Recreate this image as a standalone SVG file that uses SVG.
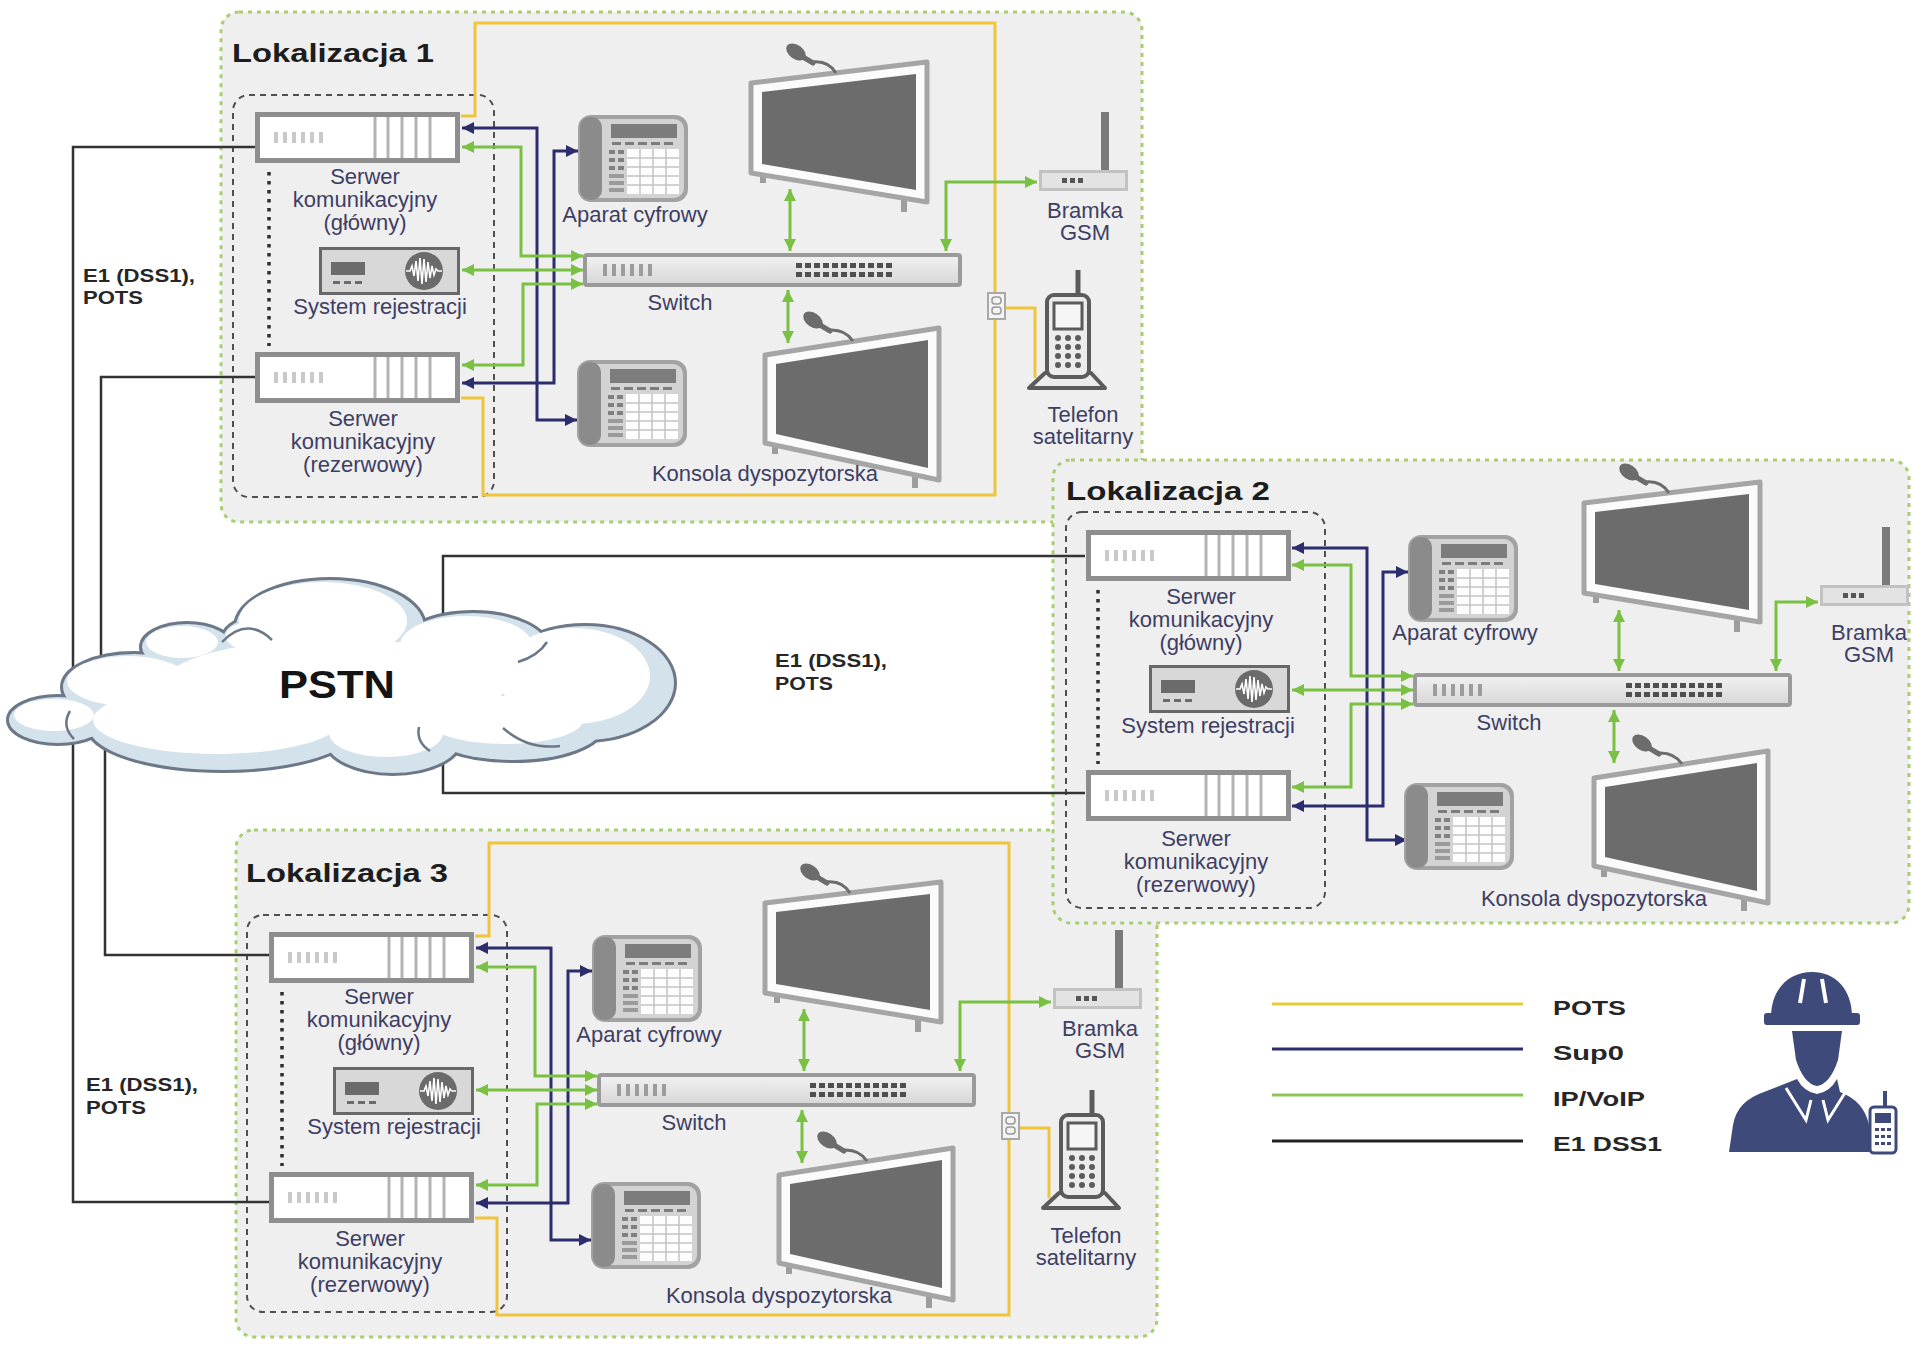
<svg xmlns="http://www.w3.org/2000/svg" xmlns:xlink="http://www.w3.org/1999/xlink" width="1912" height="1345" viewBox="0 0 1912 1345">
<defs>
<style>
.panel{fill:#efefef;stroke:#a9cd72;stroke-width:3;stroke-dasharray:4 5}
.grp{fill:none;stroke:#505050;stroke-width:2;stroke-dasharray:6 5}
.pair{fill:none;stroke:#2e2e2e;stroke-width:3.5;stroke-dasharray:3.5 5.5}
.lbl{font-family:"Liberation Sans",Arial,sans-serif;font-size:22px;fill:#3e3e64;text-anchor:middle}
.title{font-family:"Liberation Sans",Arial,sans-serif;font-size:26px;font-weight:bold;fill:#1d1d1d}
.e1t{font-family:"Liberation Sans",Arial,sans-serif;font-size:19px;font-weight:bold;fill:#262626}
.leg{font-family:"Liberation Sans",Arial,sans-serif;font-size:21px;font-weight:bold;fill:#262626}
.pstn{font-family:"Liberation Sans",Arial,sans-serif;font-size:38px;font-weight:bold;fill:#141414}
.pots{fill:none;stroke:#efc53c;stroke-width:3}
.sup0{fill:none;stroke:#2c2d6d;stroke-width:3;marker-start:url(#mN);marker-end:url(#mN)}
.ip{fill:none;stroke:#7ac143;stroke-width:3;marker-start:url(#mG);marker-end:url(#mG)}
.e1{fill:none;stroke:#333333;stroke-width:2.5}
</style>
<marker id="mN" viewBox="0 0 12 12" refX="12" refY="6" markerWidth="13" markerHeight="12" markerUnits="userSpaceOnUse" orient="auto-start-reverse"><path d="M0,0 L12,6 L0,12 Z" fill="#2c2d6d"/></marker>
<marker id="mG" viewBox="0 0 12 12" refX="12" refY="6" markerWidth="13" markerHeight="12" markerUnits="userSpaceOnUse" orient="auto-start-reverse"><path d="M0,0 L12,6 L0,12 Z" fill="#7ac143"/></marker>
<linearGradient id="swg" x1="0" y1="0" x2="0" y2="1"><stop offset="0" stop-color="#f2f2f2"/><stop offset="1" stop-color="#d6d6d6"/></linearGradient>

<!-- communication server, 205 x 51 -->
<g id="srv">
 <rect x="2.5" y="2.5" width="200" height="46" fill="#ffffff" stroke="#8e8e8e" stroke-width="5"/>
 <g fill="#c9c9c9"><rect x="19" y="20" width="4" height="11"/><rect x="28" y="20" width="4" height="11"/><rect x="37" y="20" width="4" height="11"/><rect x="46" y="20" width="4" height="11"/><rect x="55" y="20" width="4" height="11"/><rect x="64" y="20" width="4" height="11"/></g>
 <path d="M120,5V46M133,5V46M147,5V46M161,5V46M175,5V46" stroke="#b3b3b3" stroke-width="3"/>
</g>
<!-- recording system, 141 x 48 -->
<g id="rec">
 <rect x="1.5" y="1.5" width="138" height="45" fill="#d8d8d8" stroke="#686868" stroke-width="3"/>
 <rect x="12" y="15" width="34" height="13" fill="#6b6b6b"/>
 <g fill="#6b6b6b"><rect x="14" y="34" width="7" height="3"/><rect x="25" y="34" width="7" height="3"/><rect x="36" y="34" width="7" height="3"/></g>
 <circle cx="105" cy="24" r="19" fill="#6b6b6b"/>
 <polyline points="87,24 91,24 93,19 95,29 97,14 99,34 101,11 103,37 105,12 107,35 109,15 111,31 113,19 115,28 117,22 119,24 123,24" fill="none" stroke="#ffffff" stroke-width="1.6"/>
</g>
<!-- desk phone, 110 x 87 -->
<g id="desk">
 <rect x="0" y="0" width="110" height="87" rx="13" fill="#a2a2a2"/>
 <rect x="5" y="4" width="101" height="79" rx="10" fill="#d3d3d3"/>
 <rect x="2" y="2" width="22" height="83" rx="10" fill="#8b8b8b"/>
 <rect x="33" y="9" width="66" height="14" fill="#7c7c7c"/>
 <g fill="#7c7c7c"><rect x="34" y="27" width="9" height="3"/><rect x="47" y="27" width="9" height="3"/><rect x="60" y="27" width="9" height="3"/><rect x="73" y="27" width="9" height="3"/><rect x="86" y="27" width="9" height="3"/></g>
 <g fill="#808080"><rect x="31" y="35" width="6" height="4"/><rect x="40" y="35" width="6" height="4"/><rect x="31" y="43" width="6" height="4"/><rect x="40" y="43" width="6" height="4"/><rect x="31" y="51" width="6" height="4"/><rect x="40" y="51" width="6" height="4"/></g>
 <g fill="#9a9a9a"><rect x="31" y="59" width="15" height="4"/><rect x="31" y="66" width="15" height="4"/><rect x="31" y="73" width="15" height="4"/></g>
 <rect x="49" y="34" width="52" height="45" fill="#fdfdfd"/>
 <path d="M62,34V79M75,34V79M88,34V79M49,43H101M49,52H101M49,61H101M49,70H101" stroke="#c4c4c4" stroke-width="1.5"/>
</g>
<!-- network switch, 379 x 34 -->
<g id="sw">
 <rect x="2" y="2" width="375" height="30" rx="2" fill="url(#swg)" stroke="#9a9a9a" stroke-width="4"/>
 <g fill="#9c9c9c"><rect x="20" y="11" width="4" height="12"/><rect x="29" y="11" width="4" height="12"/><rect x="38" y="11" width="4" height="12"/><rect x="47" y="11" width="4" height="12"/><rect x="56" y="11" width="4" height="12"/><rect x="65" y="11" width="4" height="12"/></g>
 <g fill="#4f4f4f">
  <rect x="213" y="10" width="6" height="5"/><rect x="222" y="10" width="6" height="5"/><rect x="231" y="10" width="6" height="5"/><rect x="240" y="10" width="6" height="5"/><rect x="249" y="10" width="6" height="5"/><rect x="258" y="10" width="6" height="5"/><rect x="267" y="10" width="6" height="5"/><rect x="276" y="10" width="6" height="5"/><rect x="285" y="10" width="6" height="5"/><rect x="294" y="10" width="6" height="5"/><rect x="303" y="10" width="6" height="5"/>
  <rect x="213" y="19" width="6" height="5"/><rect x="222" y="19" width="6" height="5"/><rect x="231" y="19" width="6" height="5"/><rect x="240" y="19" width="6" height="5"/><rect x="249" y="19" width="6" height="5"/><rect x="258" y="19" width="6" height="5"/><rect x="267" y="19" width="6" height="5"/><rect x="276" y="19" width="6" height="5"/><rect x="285" y="19" width="6" height="5"/><rect x="294" y="19" width="6" height="5"/><rect x="303" y="19" width="6" height="5"/>
 </g>
</g>
<!-- dispatcher monitors with microphone -->
<g id="monA">
 <path d="M12,108V121M153,134V150" stroke="#9d9d9d" stroke-width="6"/>
 <polygon points="0,21 176,0 176,140 0,111" fill="#fbfbfb" stroke="#a5a5a5" stroke-width="5" stroke-linejoin="round"/>
 <polygon points="11,30 165,12 165,128 11,102" fill="#6c6c6c"/>
 <path d="M61,0 Q77,-2 85,11" fill="none" stroke="#6c6c6c" stroke-width="3"/>
 <line x1="52" y1="-5" x2="62" y2="1" stroke="#6c6c6c" stroke-width="5" stroke-linecap="round"/>
 <ellipse cx="45" cy="-10" rx="11" ry="7" transform="rotate(35 45 -10)" fill="#6c6c6c"/>
</g>
<g id="monB">
 <path d="M10,112V126M150,144V160" stroke="#9d9d9d" stroke-width="6"/>
 <polygon points="0,27 174,0 174,152 0,115" fill="#fbfbfb" stroke="#a5a5a5" stroke-width="5" stroke-linejoin="round"/>
 <polygon points="11,36 163,12 163,140 11,106" fill="#6c6c6c"/>
 <path d="M64,2 Q80,1 88,13" fill="none" stroke="#6c6c6c" stroke-width="3"/>
 <line x1="55" y1="-3" x2="65" y2="3" stroke="#6c6c6c" stroke-width="5" stroke-linecap="round"/>
 <ellipse cx="48" cy="-8" rx="11" ry="7" transform="rotate(35 48 -8)" fill="#6c6c6c"/>
</g>
<!-- GSM gateway, box 89 x 20 with antenna -->
<g id="gsm">
 <rect x="62" y="-58" width="8" height="58" fill="#7a7a7a"/>
 <rect x="1.5" y="1.5" width="86" height="18" fill="#e3e3e3" stroke="#c2c2c2" stroke-width="3"/>
 <g fill="#555555"><rect x="23" y="8" width="5" height="5"/><rect x="31" y="8" width="5" height="5"/><rect x="39" y="8" width="5" height="5"/></g>
</g>
<!-- satellite phone on base -->
<g id="sat" stroke="#5b5b5b">
 <line x1="49" y1="0" x2="49" y2="26" stroke-width="5"/>
 <polygon points="16,103 62,103 76,118 0,118" fill="#ececec" stroke-width="4" stroke-linejoin="round"/>
 <rect x="18" y="25" width="42" height="82" rx="7" fill="#ececec" stroke-width="4"/>
 <rect x="25" y="33" width="28" height="26" fill="#f6f6f6" stroke-width="3"/>
 <g fill="#5b5b5b" stroke="none"><circle cx="29" cy="68" r="3"/><circle cx="39" cy="68" r="3"/><circle cx="49" cy="68" r="3"/><circle cx="29" cy="77" r="3"/><circle cx="39" cy="77" r="3"/><circle cx="49" cy="77" r="3"/><circle cx="29" cy="86" r="3"/><circle cx="39" cy="86" r="3"/><circle cx="49" cy="86" r="3"/><circle cx="29" cy="95" r="3"/><circle cx="39" cy="95" r="3"/><circle cx="49" cy="95" r="3"/></g>
</g>
<!-- wall socket -->
<g id="socket">
 <rect x="1" y="1" width="17" height="26" fill="#f3f3f3" stroke="#a8a8a8" stroke-width="2"/>
 <rect x="5" y="5" width="9" height="7" rx="3" fill="none" stroke="#9a9a9a" stroke-width="1.5"/>
 <rect x="5" y="15" width="9" height="7" rx="3" fill="none" stroke="#9a9a9a" stroke-width="1.5"/>
</g>
<!-- cloud lobes -->
<g id="cloudLobes">
 <ellipse cx="58" cy="720" rx="49" ry="23"/>
 <ellipse cx="134" cy="687" rx="71" ry="33"/>
 <ellipse cx="187" cy="647" rx="45" ry="23"/>
 <ellipse cx="250" cy="640" rx="27" ry="20"/>
 <ellipse cx="330" cy="627" rx="94" ry="47"/>
 <ellipse cx="473" cy="650" rx="76" ry="37"/>
 <ellipse cx="585" cy="683" rx="89" ry="57"/>
 <ellipse cx="513" cy="727" rx="89" ry="33"/>
 <ellipse cx="393" cy="740" rx="67" ry="33"/>
 <ellipse cx="223" cy="727" rx="134" ry="43"/>
</g>
</defs>

<rect x="0" y="0" width="1912" height="1345" fill="#ffffff"/>

<!-- site areas and server groupings -->
<g id="areas">
 <rect id="area-1" class="panel" x="221" y="12" width="921" height="510" rx="18"/>
 <rect class="grp" x="233" y="95" width="261" height="402" rx="16"/>
 <line class="pair" x1="269" y1="172" x2="269" y2="346"/>
 <rect id="area-3" class="panel" x="236" y="830" width="921" height="507" rx="18"/>
 <rect class="grp" x="247" y="915" width="260" height="397" rx="16"/>
 <line class="pair" x1="282" y1="992" x2="282" y2="1166"/>
 <rect id="area-2" class="panel" x="1053" y="460" width="856" height="463" rx="18"/>
 <rect class="grp" x="1066" y="512" width="259" height="396" rx="16"/>
 <line class="pair" x1="1098" y1="590" x2="1098" y2="764"/>
</g>

<g id="connectors">
 <g id="e1-links" class="e1">
  <path d="M255,147 H73 V1202 H269"/>
  <path d="M255,377 H101 V690"/>
  <path d="M105,720 V955 H269"/>
  <path d="M1085,556 H443 V650"/>
  <path d="M1085,793 H443 V730"/>
 </g>
 <g id="e1-labels">
  <text class="e1t" x="83" y="282" textLength="112" lengthAdjust="spacingAndGlyphs">E1 (DSS1),</text>
  <text class="e1t" x="83" y="304" textLength="60" lengthAdjust="spacingAndGlyphs">POTS</text>
  <text class="e1t" x="775" y="667" textLength="112" lengthAdjust="spacingAndGlyphs">E1 (DSS1),</text>
  <text class="e1t" x="775" y="690" textLength="58" lengthAdjust="spacingAndGlyphs">POTS</text>
  <text class="e1t" x="86" y="1091" textLength="112" lengthAdjust="spacingAndGlyphs">E1 (DSS1),</text>
  <text class="e1t" x="86" y="1114" textLength="60" lengthAdjust="spacingAndGlyphs">POTS</text>
 </g>
 <g id="links-1">
  <path class="pots" d="M461,116 H475 V23 H995 V495 H483 V398 H461"/>
  <path class="pots" d="M1006,308 H1035 V378"/>
  <path class="sup0" d="M462,128 H537 V420 H577"/>
  <path class="sup0" d="M462,383 H554 V151 H578"/>
  <path class="ip" d="M462,147 H521 V256 H583"/>
  <path class="ip" d="M462,270 H583"/>
  <path class="ip" d="M462,365 H523 V284 H583"/>
  <path class="ip" d="M790,189 V251"/>
  <path class="ip" d="M788,290 V343"/>
  <path class="ip" d="M946,251 V182 H1037"/>
 </g>
 <g id="links-3" transform="translate(14,820)">
  <path class="pots" d="M461,116 H475 V23 H995 V495 H483 V398 H461"/>
  <path class="pots" d="M1006,308 H1035 V378"/>
  <path class="sup0" d="M462,128 H537 V420 H577"/>
  <path class="sup0" d="M462,383 H554 V151 H578"/>
  <path class="ip" d="M462,147 H521 V256 H583"/>
  <path class="ip" d="M462,270 H583"/>
  <path class="ip" d="M462,365 H523 V284 H583"/>
  <path class="ip" d="M790,189 V251"/>
  <path class="ip" d="M788,290 V343"/>
  <path class="ip" d="M946,251 V182 H1037"/>
 </g>
 <g id="links-2" transform="translate(830,420)">
  <path class="sup0" d="M462,128 H537 V420 H577"/>
  <path class="sup0" d="M462,386 H553 V152 H578"/>
  <path class="ip" d="M462,145 H521 V256 H583"/>
  <path class="ip" d="M462,270 H583"/>
  <path class="ip" d="M462,367 H521 V284 H583"/>
  <path class="ip" d="M789,190 V251"/>
  <path class="ip" d="M784,290 V343"/>
  <path class="ip" d="M946,251 V182 H988"/>
 </g>
</g>

<!-- Site 1 -->
<g id="site-1">
 <text class="title" x="232" y="62" textLength="202" lengthAdjust="spacingAndGlyphs">Lokalizacja 1</text>
 <g id="s1-server-main"><use href="#srv" x="255" y="112"/><text class="lbl" x="365" y="184">Serwer</text><text class="lbl" x="365" y="207">komunikacyjny</text><text class="lbl" x="365" y="230">(główny)</text></g>
 <g id="s1-recorder"><use href="#rec" x="319" y="247"/><text class="lbl" x="380" y="314">System rejestracji</text></g>
 <g id="s1-server-backup"><use href="#srv" x="255" y="352"/><text class="lbl" x="363" y="426">Serwer</text><text class="lbl" x="363" y="449">komunikacyjny</text><text class="lbl" x="363" y="472">(rezerwowy)</text></g>
 <g id="s1-digital-phone"><use href="#desk" x="578" y="115"/><text class="lbl" x="635" y="222">Aparat cyfrowy</text></g>
 <g id="s1-phone-2"><use href="#desk" x="577" y="360"/></g>
 <g id="s1-switch"><use href="#sw" x="583" y="253"/><text class="lbl" x="680" y="310">Switch</text></g>
 <g id="s1-console"><use href="#monA" x="751" y="62"/><use href="#monB" x="765" y="328"/><text class="lbl" x="765" y="481">Konsola dyspozytorska</text></g>
 <g id="s1-gsm"><use href="#gsm" x="1039" y="170"/><text class="lbl" x="1085" y="218">Bramka</text><text class="lbl" x="1085" y="240">GSM</text></g>
 <g id="s1-socket"><use href="#socket" x="987" y="292"/></g>
 <g id="s1-satphone"><use href="#sat" x="1029" y="270"/><text class="lbl" x="1083" y="422">Telefon</text><text class="lbl" x="1083" y="444">satelitarny</text></g>
</g>

<!-- Site 3 (same layout, shifted) -->
<g id="site-3" transform="translate(14,820)">
 <text class="title" x="232" y="62" textLength="202" lengthAdjust="spacingAndGlyphs">Lokalizacja 3</text>
 <g id="s3-server-main"><use href="#srv" x="255" y="112"/><text class="lbl" x="365" y="184">Serwer</text><text class="lbl" x="365" y="207">komunikacyjny</text><text class="lbl" x="365" y="230">(główny)</text></g>
 <g id="s3-recorder"><use href="#rec" x="319" y="247"/><text class="lbl" x="380" y="314">System rejestracji</text></g>
 <g id="s3-server-backup"><use href="#srv" x="255" y="352"/><text class="lbl" x="356" y="426">Serwer</text><text class="lbl" x="356" y="449">komunikacyjny</text><text class="lbl" x="356" y="472">(rezerwowy)</text></g>
 <g id="s3-digital-phone"><use href="#desk" x="578" y="115"/><text class="lbl" x="635" y="222">Aparat cyfrowy</text></g>
 <g id="s3-phone-2"><use href="#desk" x="577" y="362"/></g>
 <g id="s3-switch"><use href="#sw" x="583" y="253"/><text class="lbl" x="680" y="310">Switch</text></g>
 <g id="s3-console"><use href="#monA" x="751" y="62"/><use href="#monB" x="765" y="328"/><text class="lbl" x="765" y="483">Konsola dyspozytorska</text></g>
 <g id="s3-gsm"><use href="#gsm" x="1039" y="168"/><text class="lbl" x="1086" y="216">Bramka</text><text class="lbl" x="1086" y="238">GSM</text></g>
 <g id="s3-socket"><use href="#socket" x="987" y="292"/></g>
 <g id="s3-satphone"><use href="#sat" x="1029" y="270"/><text class="lbl" x="1072" y="423">Telefon</text><text class="lbl" x="1072" y="445">satelitarny</text></g>
</g>

<!-- Site 2 -->
<g id="site-2" transform="translate(830,420)">
 <text class="title" x="236" y="80" textLength="204" lengthAdjust="spacingAndGlyphs">Lokalizacja 2</text>
 <g id="s2-server-main"><use href="#srv" x="256" y="110"/><text class="lbl" x="371" y="184">Serwer</text><text class="lbl" x="371" y="207">komunikacyjny</text><text class="lbl" x="371" y="230">(główny)</text></g>
 <g id="s2-recorder"><use href="#rec" x="319" y="245"/><text class="lbl" x="378" y="313">System rejestracji</text></g>
 <g id="s2-server-backup"><use href="#srv" x="256" y="350"/><text class="lbl" x="366" y="426">Serwer</text><text class="lbl" x="366" y="449">komunikacyjny</text><text class="lbl" x="366" y="472">(rezerwowy)</text></g>
 <g id="s2-digital-phone"><use href="#desk" x="578" y="115"/><text class="lbl" x="635" y="220">Aparat cyfrowy</text></g>
 <g id="s2-phone-2"><use href="#desk" x="574" y="363"/></g>
 <g id="s2-switch"><use href="#sw" x="583" y="253"/><text class="lbl" x="679" y="310">Switch</text></g>
 <g id="s2-console"><use href="#monA" x="754" y="62"/><use href="#monB" x="764" y="331"/><text class="lbl" x="764" y="486">Konsola dyspozytorska</text></g>
 <g id="s2-gsm"><use href="#gsm" x="990" y="165"/><text class="lbl" x="1039" y="220">Bramka</text><text class="lbl" x="1039" y="242">GSM</text></g>
</g>

<!-- public telephone network -->
<g id="pstn">
 <use href="#cloudLobes" fill="none" stroke="#6c7787" stroke-width="6"/>
 <use href="#cloudLobes" fill="#d4e2ec"/>
 <ellipse cx="340" cy="690" rx="180" ry="50" fill="#d4e2ec"/>
 <g fill="#ffffff">
  <ellipse cx="54" cy="715" rx="40" ry="16"/>
  <ellipse cx="128" cy="681" rx="61" ry="25"/>
  <ellipse cx="182" cy="642" rx="36" ry="16"/>
  <ellipse cx="245" cy="636" rx="19" ry="13"/>
  <ellipse cx="323" cy="621" rx="84" ry="39"/>
  <ellipse cx="466" cy="645" rx="66" ry="29"/>
  <ellipse cx="574" cy="676" rx="76" ry="48"/>
  <ellipse cx="505" cy="720" rx="78" ry="24"/>
  <ellipse cx="386" cy="733" rx="57" ry="24"/>
  <ellipse cx="217" cy="720" rx="124" ry="34"/>
  <ellipse cx="335" cy="684" rx="172" ry="45"/>
 </g>
 <g fill="none" stroke="#6c7787" stroke-width="2.5">
  <path d="M222,642 Q247,616 272,640"/>
  <path d="M518,662 Q538,656 547,642"/>
  <path d="M503,728 Q528,750 560,746"/>
  <path d="M70,711 Q61,726 74,739"/>
  <path d="M419,727 Q416,742 430,751"/>
 </g>
 <text class="pstn" x="279" y="698" textLength="116" lengthAdjust="spacingAndGlyphs">PSTN</text>
</g>

<!-- line type key -->
<g id="legend">
 <line x1="1272" y1="1004" x2="1523" y2="1004" stroke="#e5cc3e" stroke-width="3"/>
 <line x1="1272" y1="1049" x2="1523" y2="1049" stroke="#2c2d6d" stroke-width="3"/>
 <line x1="1272" y1="1095" x2="1523" y2="1095" stroke="#8cc653" stroke-width="3"/>
 <line x1="1272" y1="1141" x2="1523" y2="1141" stroke="#222222" stroke-width="3"/>
 <text class="leg" x="1553" y="1015" textLength="73" lengthAdjust="spacingAndGlyphs">POTS</text>
 <text class="leg" x="1553" y="1060" textLength="71" lengthAdjust="spacingAndGlyphs">Sup0</text>
 <text class="leg" x="1553" y="1106" textLength="92" lengthAdjust="spacingAndGlyphs">IP/VoIP</text>
 <text class="leg" x="1553" y="1151" textLength="109" lengthAdjust="spacingAndGlyphs">E1 DSS1</text>
</g>

<!-- field worker with radio -->
<g id="worker" fill="#3d4a7a">
 <path d="M1771,1017 C1771,989 1789,972 1812,972 C1835,972 1852,989 1852,1017 Z"/>
 <rect x="1764" y="1013" width="96" height="12" rx="3"/>
 <path d="M1804,979 L1800,1003 M1822,979 L1826,1003" fill="none" stroke="#ffffff" stroke-width="4"/>
 <path d="M1792,1031 H1842 L1838,1060 Q1830,1084 1817,1086 Q1804,1084 1796,1060 Z"/>
 <path d="M1797,1079 L1764,1092 Q1737,1101 1733,1125 L1729,1152 H1873 L1869,1125 Q1864,1101 1840,1092 L1837,1079 Q1830,1092 1817,1094 Q1804,1092 1797,1079 Z"/>
 <path d="M1786,1088 L1806,1120 L1811,1100 M1848,1088 L1828,1120 L1823,1100" fill="none" stroke="#ffffff" stroke-width="3"/>
 <rect x="1883" y="1091" width="4" height="17"/>
 <rect x="1870" y="1107" width="26" height="46" rx="4" fill="#ffffff" stroke="#3d4a7a" stroke-width="3"/>
 <rect x="1875" y="1113" width="16" height="10"/>
 <g><rect x="1875" y="1128" width="4" height="3"/><rect x="1881" y="1128" width="4" height="3"/><rect x="1887" y="1128" width="4" height="3"/><rect x="1875" y="1135" width="4" height="3"/><rect x="1881" y="1135" width="4" height="3"/><rect x="1887" y="1135" width="4" height="3"/><rect x="1875" y="1142" width="4" height="3"/><rect x="1881" y="1142" width="4" height="3"/><rect x="1887" y="1142" width="4" height="3"/></g>
</g>
</svg>
